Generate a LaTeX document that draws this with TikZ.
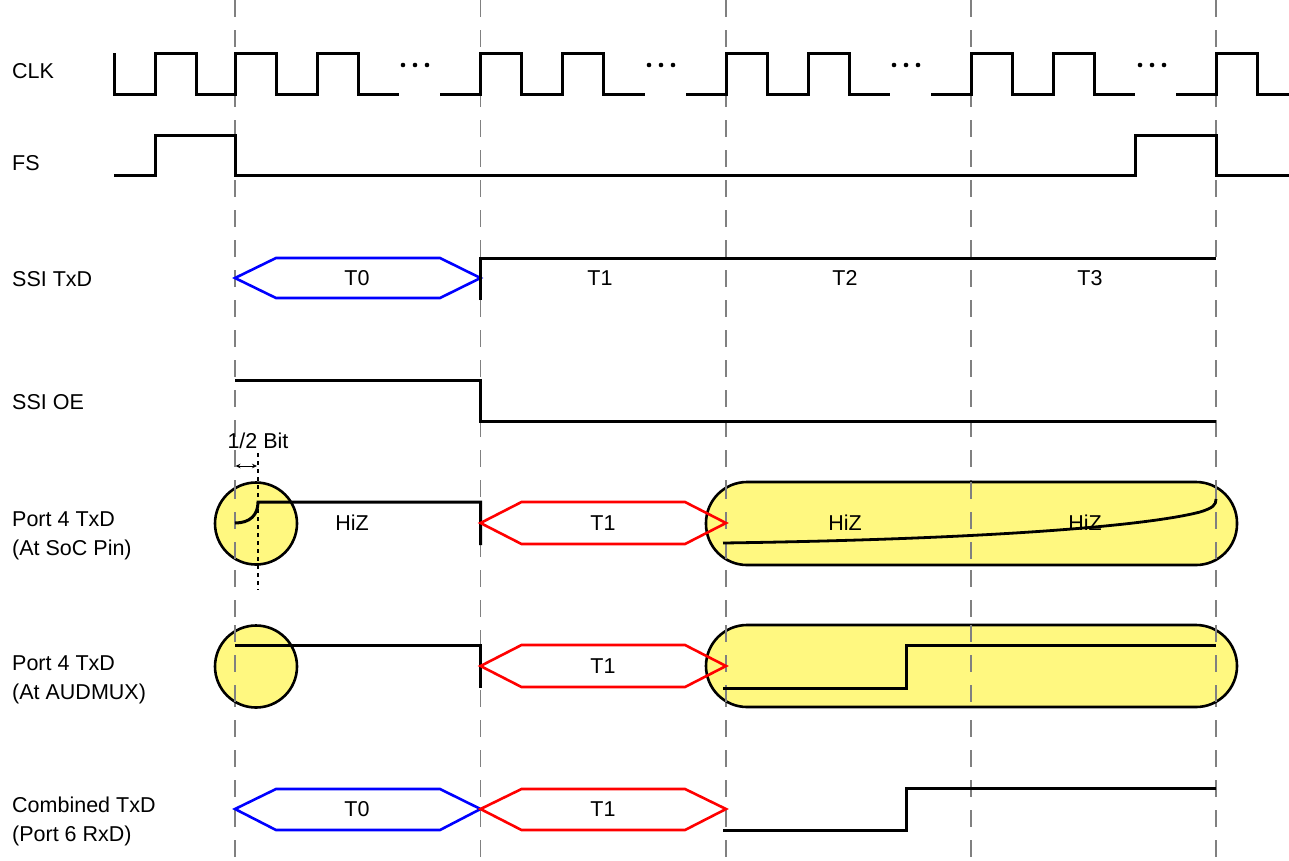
\documentclass[tikz,border=0pt]{standalone}
\usepackage{fontspec}
\setmainfont{Liberation Sans}
\usetikzlibrary{arrows.meta}
\begin{document}
\begin{tikzpicture}[x=1pt,y=-1pt,
  sig/.style={line width=3pt,line join=miter,line cap=butt},
  guide/.style={gray,line width=1.2pt,dash pattern=on 17pt off 13pt},
  hexblue/.style={blue,line width=2.6pt,line join=miter},
  hexred/.style={red,line width=2.6pt,line join=miter},
  blob/.style={draw=black,line width=2.6pt,fill=yellow!50},
  lbl/.style={anchor=west,inner sep=0pt,align=left,font=\fontsize{21.5}{29}\selectfont},
  txt/.style={inner sep=0pt,font=\fontsize{21.5}{24}\selectfont}]
\useasboundingbox (0,0) rectangle (1289,860);
% guides
\foreach \x/\n in {235/g0,480.5/g1,726/g2,971/g3,1216/g4}{
  \coordinate (\n t) at (\x,0);
  \coordinate (\n b) at (\x,860);
  \draw[guide] (\n t) -- (\n b);
}
% labels
\node[lbl] (lclk) at (12,71) {CLK};
\node[lbl] (lfs) at (12,163) {FS};
\node[lbl] (ltx) at (12,279) {SSI TxD};
\node[lbl] (loe) at (12,402) {SSI OE};
\node[lbl] (lsoc) at (12,536) {Port 4 TxD\\(At SoC Pin)};
\node[lbl] (laud) at (12,680) {Port 4 TxD\\(At AUDMUX)};
\node[lbl] (lcomb) at (12,821) {Combined TxD\\(Port 6 RxD)};
% CLK
\draw[sig] (114,53) -- (114,94) -- (155,94) -- (155,53) -- (196,53) -- (196,94) -- (235,94) -- (235,53) -- (276,53) -- (276,94) -- (317,94) -- (317,53) -- (358,53) -- (358,94) -- (399,94);
\draw[sig] (440,94) -- (480.5,94) -- (480.5,53) -- (521.5,53) -- (521.5,94) -- (562.5,94) -- (562.5,53) -- (603.5,53) -- (603.5,94) -- (644.5,94);
\draw[sig] (686,94) -- (726,94) -- (726,53) -- (767,53) -- (767,94) -- (808,94) -- (808,53) -- (849,53) -- (849,94) -- (890,94);
\draw[sig] (931,94) -- (971,94) -- (971,53) -- (1012,53) -- (1012,94) -- (1053,94) -- (1053,53) -- (1094,53) -- (1094,94) -- (1135,94);
\draw[sig] (1176,94) -- (1216,94) -- (1216,53) -- (1257,53) -- (1257,94) -- (1289,94);
\foreach \x in {403,649,894,1140}{
  \foreach \d in {0,12,24}{ \fill (\x+\d,65) circle (2.3pt); }
}
% FS
\draw[sig] (114,175) -- (155,175) -- (155,135) -- (235,135) -- (235,175) -- (1135,175) -- (1135,135) -- (1216,135) -- (1216,175) -- (1289,175);
% SSI TxD
\draw[hexblue] (235,278) -- (276,258) -- (440,258) -- (480.5,278) -- (440,298) -- (276,298) -- cycle;
\node[txt] (t0a) at (357,278) {T0};
\draw[sig] (480.5,300) -- (480.5,258) -- (1216,258);
\node[txt] (t1a) at (600,278) {T1};
\node[txt] (t2a) at (845,278) {T2};
\node[txt] (t3a) at (1090,278) {T3};
% SSI OE
\draw[sig] (235,380) -- (480.5,380) -- (480.5,421) -- (1216,421);
% 1/2 bit
\node[txt] (half) at (258,441) {1/2 Bit};
% Port 4 TxD SoC
\draw[blob] (256,523.5) circle (41);
\draw[blob,rounded corners=41pt] (706,482) rectangle (1237,565);
\draw[guide] (235,482) -- (235,565);
\draw[guide] (726,482) -- (726,565);
\draw[guide] (971,482) -- (971,565);
\draw[guide] (1216,482) -- (1216,565);
\draw[black,line width=2.2pt,dash pattern=on 4pt off 4pt] (258,453) -- (258,590);
\draw[black,line width=1pt,{Stealth[length=5pt,width=4.5pt]}-{Stealth[length=5pt,width=4.5pt]}] (235.5,466) -- (257,466);
\draw[sig] (235,523) .. controls (250,523) and (258,515) .. (258,502) -- (480.5,502) -- (480.5,545);
\node[txt] (hiz1) at (352,523) {HiZ};
\draw[hexred] (480.5,523) -- (521.5,502) -- (685,502) -- (726,523) -- (685,544) -- (521.5,544) -- cycle;
\node[txt] (t1b) at (603,523) {T1};
\draw[line width=2.8pt] (723,543) .. controls (1000,539) and (1150,525) .. (1200,512) .. controls (1213,508) and (1216,505) .. (1216,499);
\node[txt] (hiz2) at (845,523) {HiZ};
\node[txt] (hiz3) at (1085,523) {HiZ};
% Port 4 TxD AUDMUX
\draw[blob] (256,666.5) circle (41);
\draw[blob,rounded corners=41pt] (706,625) rectangle (1237,707);
\draw[guide] (235,625) -- (235,707);
\draw[guide] (726,625) -- (726,707);
\draw[guide] (971,625) -- (971,707);
\draw[guide] (1216,625) -- (1216,707);
\draw[sig] (235,645) -- (480.5,645) -- (480.5,688);
\draw[hexred] (480.5,666) -- (521.5,645) -- (685,645) -- (726,666) -- (685,687) -- (521.5,687) -- cycle;
\node[txt] (t1c) at (603,666) {T1};
\draw[sig] (723,688) -- (906,688) -- (906,645) -- (1216,645);
% Combined
\draw[hexblue] (235,809) -- (276,789) -- (440,789) -- (480.5,809) -- (440,830) -- (276,830) -- cycle;
\node[txt] (t0b) at (357,809) {T0};
\draw[hexred] (480.5,809) -- (521.5,789) -- (685,789) -- (726,809) -- (685,830) -- (521.5,830) -- cycle;
\node[txt] (t1d) at (603,809) {T1};
\draw[sig] (723,830) -- (906,830) -- (906,788) -- (1216,788);
\end{tikzpicture}
\end{document}
